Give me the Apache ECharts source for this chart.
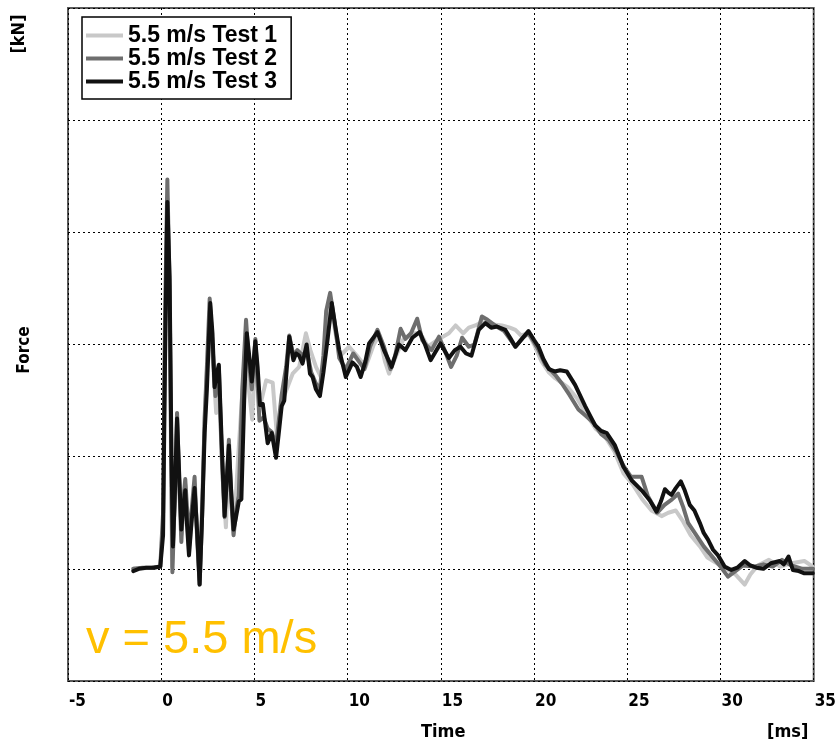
<!DOCTYPE html>
<html>
<head>
<meta charset="utf-8">
<script src="https://cdn.jsdelivr.net/npm/echarts@6/dist/echarts.min.js"></script>
<style>
  html, body { margin: 0; padding: 0; background: #fff; }
  #chart { width: 839px; height: 745px; }
</style>
</head>
<body>
<div id="chart"></div>
<script>
// Impact force traces [time in ms, force in kN]
const seriesNames = ['5.5 m/s Test 1', '5.5 m/s Test 2', '5.5 m/s Test 3'];
const seriesColors = ['#c8c8c8', '#6e6e6e', '#111111'];

const test1 = [
  [-1.5,0.0],[-0.5,0.01],[-0.05,0.02],[0.1,0.4],[0.2,2.0],[0.33,3.3],[0.45,2.4],[0.58,0.02],[0.72,0.6],[0.85,1.3],
  [0.96,0.8],[1.08,0.3],[1.29,0.75],[1.49,0.15],[1.79,0.75],[2.06,-0.1],[2.33,1.3],[2.6,2.3],[2.75,1.9],[2.95,1.39],
  [3.1,1.6],[3.3,0.8],[3.47,0.37],[3.63,1.0],[3.8,0.6],[3.95,0.5],[4.14,1.03],[4.4,1.7],[4.55,2.1],[4.7,1.6],
  [4.88,1.33],[5.05,1.9],[5.3,1.45],[5.63,1.68],[5.98,1.66],[6.2,1.2],[6.5,1.5],[7.05,1.74],[7.4,1.8],[7.76,2.1],
  [8.0,1.95],[8.3,1.8],[8.57,1.71],[8.9,2.05],[9.1,2.35],[9.35,2.1],[9.6,1.9],[10.08,1.98],[10.5,1.9],[10.97,1.8],
  [11.4,2.0],[11.7,2.08],[12.0,1.85],[12.22,1.74],[12.6,1.9],[13.0,2.05],[13.5,2.1],[13.9,2.1],[14.3,1.98],[14.9,2.05],
  [15.43,2.1],[15.79,2.17],[16.2,2.1],[16.5,2.15],[16.85,2.17],[17.2,2.2],[17.7,2.18],[18.28,2.17],[18.7,2.15],[19.0,2.13],
  [19.3,2.08],[19.7,2.1],[20.0,2.0],[20.4,1.85],[20.8,1.75],[21.13,1.7],[21.8,1.62],[22.3,1.52],[22.8,1.38],[23.3,1.25],
  [23.8,1.18],[24.3,1.05],[24.8,0.85],[25.3,0.75],[25.8,0.62],[26.3,0.52],[26.84,0.47],[27.2,0.5],[27.6,0.52],[28.0,0.42],
  [28.4,0.3],[28.9,0.2],[29.3,0.1],[29.8,0.05],[30.3,0.0],[30.8,-0.05],[31.3,-0.14],[31.6,-0.05],[32.0,0.03],[32.6,0.08],
  [33.2,0.02],[33.8,0.05],[34.5,0.07],[34.95,0.02]
];

const test2 = [
  [-1.5,0.0],[-1.0,0.01],[-0.5,0.01],[-0.05,0.02],[0.1,0.5],[0.2,2.2],[0.33,3.47],[0.45,2.5],[0.6,-0.03],[0.72,0.6],
  [0.85,1.39],[0.96,0.8],[1.08,0.24],[1.18,0.6],[1.29,0.8],[1.4,0.5],[1.49,0.2],[1.62,0.5],[1.79,0.82],[1.92,0.3],
  [2.06,-0.14],[2.2,0.5],[2.33,1.35],[2.45,1.8],[2.6,2.41],[2.75,2.0],[2.91,1.54],[3.09,1.8],[3.25,1.0],[3.4,0.46],
  [3.55,0.9],[3.63,1.15],[3.76,0.6],[3.88,0.3],[4.05,0.55],[4.16,0.65],[4.35,1.6],[4.55,2.22],[4.7,1.85],[4.86,1.6],
  [5.05,2.05],[5.27,1.32],[5.5,1.35],[5.71,1.25],[5.93,1.22],[6.16,1.1],[6.46,1.55],[6.7,1.8],[6.87,2.08],[7.09,1.9],
  [7.3,1.95],[7.6,1.9],[7.8,1.95],[8.05,1.75],[8.3,1.65],[8.51,1.6],[8.7,1.9],[8.85,2.3],[9.06,2.46],[9.3,2.2],
  [9.55,1.88],[9.9,1.78],[10.3,1.92],[10.6,1.85],[10.9,1.78],[11.2,1.98],[11.6,2.13],[11.95,1.98],[12.3,1.78],[12.55,1.9],
  [12.84,2.14],[13.1,2.05],[13.4,2.1],[13.73,2.23],[14.0,2.04],[14.18,2.0],[14.5,1.95],[14.9,2.07],[15.2,1.95],[15.55,1.8],
  [15.85,1.9],[16.14,2.06],[16.5,1.98],[16.8,2.0],[17.2,2.25],[17.5,2.22],[17.9,2.17],[18.4,2.12],[18.7,2.05],[19.0,1.98],
  [19.4,2.06],[19.7,2.1],[20.0,2.02],[20.24,1.95],[20.6,1.82],[21.13,1.73],[21.5,1.65],[21.9,1.55],[22.38,1.42],[22.8,1.36],
  [23.2,1.3],[23.6,1.2],[24.0,1.15],[24.4,1.05],[24.79,0.92],[25.2,0.82],[25.77,0.82],[26.1,0.65],[26.6,0.5],[27.0,0.57],
  [27.4,0.62],[27.73,0.67],[28.0,0.55],[28.26,0.41],[28.7,0.3],[29.1,0.2],[29.5,0.12],[30.0,0.02],[30.4,-0.07],[30.8,-0.02],
  [31.2,0.03],[31.8,0.02],[32.3,0.04],[32.8,0.02],[33.3,0.08],[33.8,0.03],[34.4,0.0],[34.95,0.0]
];

const test3 = [
  [-1.5,-0.02],[-1.2,0.0],[-0.8,0.01],[-0.4,0.01],[-0.05,0.02],[0.1,0.3],[0.2,1.8],[0.33,3.27],[0.45,2.6],[0.55,1.0],
  [0.63,0.2],[0.72,0.6],[0.85,1.34],[0.95,0.9],[1.08,0.35],[1.18,0.55],[1.29,0.7],[1.38,0.4],[1.49,0.12],[1.62,0.4],
  [1.79,0.72],[1.92,0.35],[2.06,-0.14],[2.18,0.4],[2.33,1.21],[2.45,1.6],[2.63,2.37],[2.75,2.1],[2.86,1.62],[3.0,1.75],
  [3.09,1.82],[3.25,1.1],[3.4,0.47],[3.52,0.8],[3.63,1.1],[3.75,0.7],[3.88,0.35],[4.0,0.45],[4.16,0.6],[4.3,0.62],
  [4.45,1.5],[4.59,2.1],[4.72,1.9],[4.86,1.67],[5.05,2.03],[5.17,1.8],[5.3,1.46],[5.45,1.47],[5.71,1.12],[5.93,1.21],
  [6.16,0.99],[6.3,1.2],[6.46,1.45],[6.6,1.5],[6.87,2.07],[7.09,1.86],[7.23,1.92],[7.4,1.9],[7.58,1.83],[7.8,2.0],
  [7.98,1.74],[8.12,1.71],[8.3,1.6],[8.51,1.54],[8.7,1.75],[8.92,2.04],[9.15,2.37],[9.35,2.15],[9.55,1.95],[9.9,1.71],
  [10.26,1.84],[10.5,1.8],[10.7,1.71],[10.95,1.85],[11.15,2.01],[11.6,2.11],[11.95,1.95],[12.36,1.8],[12.75,2.0],[13.1,1.95],
  [13.47,2.06],[13.86,2.11],[14.15,2.0],[14.45,1.86],[14.98,2.01],[15.43,1.88],[15.75,1.95],[16.05,1.98],[16.35,1.92],[16.64,1.9],
  [17.03,2.13],[17.39,2.19],[17.7,2.15],[18.01,2.16],[18.46,2.13],[18.75,2.05],[19.0,1.98],[19.35,2.05],[19.7,2.12],[20.0,2.04],
  [20.24,1.98],[20.5,1.87],[20.8,1.78],[21.1,1.76],[21.4,1.77],[21.75,1.76],[22.2,1.64],[22.74,1.45],[23.27,1.28],[23.6,1.23],
  [23.9,1.21],[24.34,1.1],[24.79,0.91],[25.23,0.79],[25.77,0.7],[26.21,0.61],[26.57,0.51],[26.8,0.6],[27.02,0.71],[27.2,0.68],
  [27.37,0.66],[27.6,0.72],[27.87,0.78],[28.08,0.7],[28.35,0.57],[28.6,0.52],[28.89,0.41],[29.1,0.32],[29.33,0.26],[29.6,0.17],
  [29.87,0.12],[30.22,0.02],[30.58,-0.01],[30.9,0.01],[31.3,0.07],[31.6,0.03],[31.92,0.01],[32.3,0.0],[32.7,0.05],[33.17,0.07],
  [33.4,0.04],[33.65,0.11],[33.88,-0.01],[34.2,-0.02],[34.5,-0.04],[34.95,-0.04]
];

const xTicks = { min: -5, max: 35, step: 5 };
const yTicks = { min: -1, max: 5, step: 1 };
const seriesData = [test1, test2, test3];

const labelFont = "'Liberation Sans Narrow', 'DejaVu Sans Condensed', sans-serif";
const dotted = { color: '#000', width: 1, type: [2, 3] };

const chart = echarts.init(document.getElementById('chart'));
chart.setOption({
  animation: false,
  backgroundColor: '#fff',
  grid: {
    left: 68, right: 23, top: 8, bottom: 64,
    show: true, borderColor: '#5a5a5a', borderWidth: 2, backgroundColor: 'transparent'
  },
  legend: {
    left: 82, top: 17,
    orient: 'vertical',
    itemGap: 0,
    itemWidth: 37,
    itemHeight: 4,
    icon: 'rect',
    padding: [7, 14, 6, 4],
    borderColor: '#000',
    borderWidth: 1.5,
    backgroundColor: '#fff',
    textStyle: {
      fontFamily: "'Liberation Sans', Arial, sans-serif",
      fontWeight: 'bold', fontSize: 23, lineHeight: 22, color: '#000'
    },
    data: seriesNames
  },
  xAxis: {
    type: 'value',
    min: xTicks.min, max: xTicks.max, interval: xTicks.step,
    axisLine: { show: false },
    axisTick: { show: false },
    axisLabel: {
      margin: 12, align: 'left', verticalAlign: 'top', padding: [0, 0, 0, 1],
      color: '#000', fontFamily: labelFont, fontWeight: 'bold', fontSize: 17, lineHeight: 17,
      showMaxLabel: true, showMinLabel: true
    },
    splitLine: { show: true, lineStyle: dotted }
  },
  yAxis: {
    type: 'value',
    min: yTicks.min, max: yTicks.max, interval: yTicks.step,
    axisLine: { show: false },
    axisTick: { show: false },
    axisLabel: { show: false },
    splitLine: { show: true, lineStyle: dotted }
  },
  series: seriesData.map((d, i) => ({
    name: seriesNames[i],
    type: 'line',
    data: d,
    symbol: 'none',
    showSymbol: false,
    color: seriesColors[i],
    itemStyle: { color: seriesColors[i] },
    lineStyle: { color: seriesColors[i], width: 4, join: 'round', cap: 'round' },
    z: 2 + i
  })),
  graphic: [
    {
      type: 'text', left: 421, top: 723,
      style: { text: 'Time', font: "bold 18px " + labelFont, fill: '#000' }
    },
    {
      type: 'text', left: 767, top: 723,
      style: { text: '[ms]', font: "bold 18px " + labelFont, fill: '#000' }
    },
    {
      type: 'text', x: 25, y: 350, rotation: Math.PI / 2,
      style: { text: 'Force', font: "bold 17px " + labelFont, fill: '#000', align: 'center', verticalAlign: 'middle' }
    },
    {
      type: 'text', x: 19, y: 34, rotation: Math.PI / 2,
      style: { text: '[kN]', font: "bold 18px " + labelFont, fill: '#000', align: 'center', verticalAlign: 'middle' }
    },
    {
      type: 'text', x: 86, y: 640, z: 10,
      style: { text: 'v = 5.5 m/s', font: "47px 'Liberation Sans', Arial, sans-serif", fill: '#FFC000', verticalAlign: 'middle' }
    }
  ]
});
</script>
</body>
</html>
